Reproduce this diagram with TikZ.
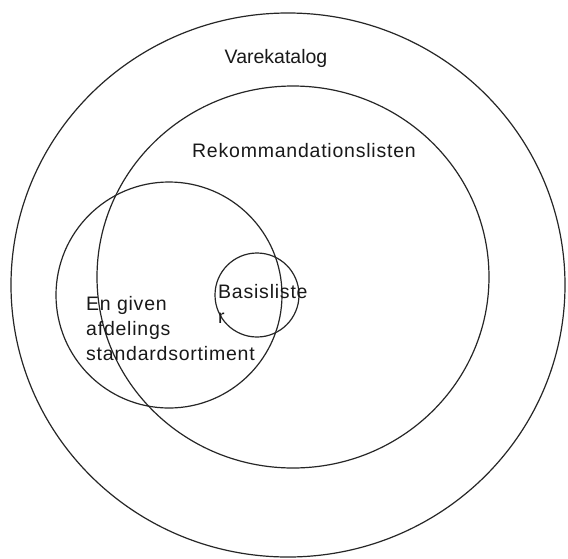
\documentclass[tikz,border=0pt]{standalone}
\usepackage{fontspec}
\setmainfont{Liberation Sans}
\newfontfamily\spacedfont[LetterSpace=4]{Liberation Sans}
\begin{document}
\begin{tikzpicture}[x=1pt,y=-1pt,
  ring/.style={draw=black!85,line width=1.2pt},
  lbl/.style={font=\fontsize{19.5}{25}\selectfont,inner sep=0pt,text=black!90},
  slbl/.style={font=\spacedfont\fontsize{19.5}{25}\selectfont,inner sep=0pt,text=black!90}]
\useasboundingbox (0,0) rectangle (568,558);
\fill[white] (0,0) rectangle (568,558);
\draw[ring] (288,285) ellipse [x radius=277, y radius=272];
\draw[ring] (293,277) ellipse [x radius=196, y radius=191];
\draw[ring] (169,295) circle [radius=113];
\draw[ring] (257,295) circle [radius=42];
\node[lbl,anchor=base] (vk) at (276,63) {Varekatalog};
\node[slbl,anchor=base] (rk) at (304,157) {Rekommandationslisten};
\node[slbl,anchor=north west,align=left] (bl) at (218,284) {Basisliste\\r};
\node[slbl,anchor=north west,align=left] (eg) at (86,296) {En given\\afdelings\\standardsortiment};
\end{tikzpicture}
\end{document}
